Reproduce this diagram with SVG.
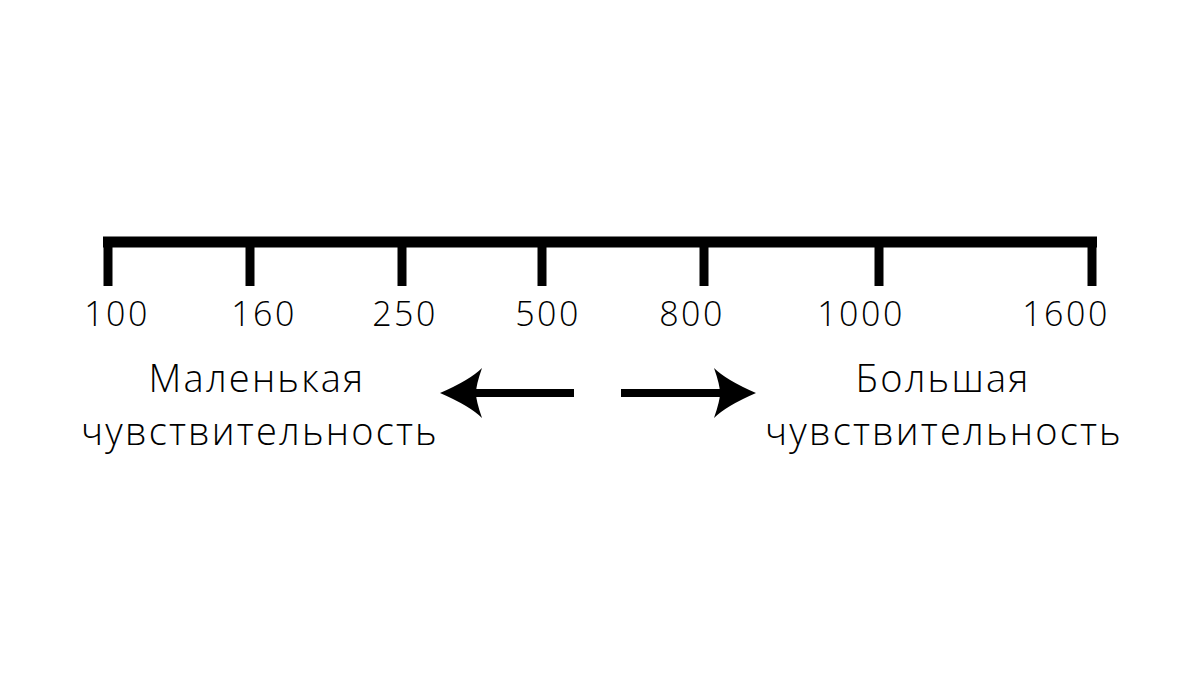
<svg xmlns="http://www.w3.org/2000/svg" width="1200" height="675" viewBox="0 0 1200 675">
<style>
.t{font-family:"Open Sans","DejaVu Sans",sans-serif;font-weight:300;fill:#000;text-anchor:middle}
.n{font-size:34px;letter-spacing:2.5px}
.c{font-size:38px;letter-spacing:2.2px}
.k{stroke:#000;stroke-width:9;fill:none}
</style>
<rect width="1200" height="675" fill="#fff"/>
<g id="scale">
<line class="k" x1="103" y1="242" x2="1097" y2="242" style="stroke-width:11"/>
<line class="k" x1="108" y1="242" x2="108" y2="286"/>
<line class="k" x1="250" y1="242" x2="250" y2="286"/>
<line class="k" x1="402" y1="242" x2="402" y2="286"/>
<line class="k" x1="542" y1="242" x2="542" y2="286"/>
<line class="k" x1="704" y1="242" x2="704" y2="286"/>
<line class="k" x1="879" y1="242" x2="879" y2="286"/>
<line class="k" x1="1092" y1="242" x2="1092" y2="286"/>
</g>
<g id="labels" class="t n">
<text x="117" y="326">100</text>
<text x="264" y="326">160</text>
<text x="405" y="326">250</text>
<text x="548" y="326">500</text>
<text x="692" y="326">800</text>
<text x="861" y="326">1000</text>
<text x="1066" y="326">1600</text>
</g>
<g id="left" class="t c">
<text x="257" y="392">Маленькая</text>
<text x="260" y="445">чувствительность</text>
</g>
<g id="right" class="t c">
<text x="943" y="392">Большая</text>
<text x="944" y="445">чувствительность</text>
</g>
<g id="connectors">
<line x1="574" y1="393" x2="470" y2="393" stroke="#000" stroke-width="8"/>
<path d="M440,393 Q470,380 482,368 Q476,385 476,393 Q476,401 482,418 Q470,406 440,393Z" fill="#000"/>
<line x1="621" y1="393" x2="725" y2="393" stroke="#000" stroke-width="8"/>
<path d="M756,393 Q726,380 714,368 Q720,385 720,393 Q720,401 714,418 Q726,406 756,393Z" fill="#000"/>
</g>
</svg>
